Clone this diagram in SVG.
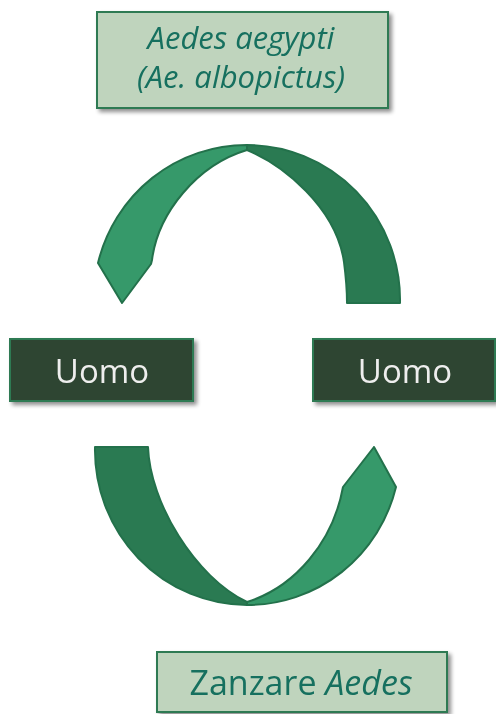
<svg xmlns="http://www.w3.org/2000/svg" width="496" height="714" viewBox="0 0 496 714">
<defs>
<filter id="sh" x="-10%" y="-10%" width="130%" height="140%">
<feGaussianBlur in="SourceAlpha" stdDeviation="2"/>
<feOffset dx="3" dy="3"/>
<feComponentTransfer><feFuncA type="linear" slope="0.45"/></feComponentTransfer>
<feMerge><feMergeNode/><feMergeNode in="SourceGraphic"/></feMerge>
</filter>
<style>
.lbox{fill:#bfd4bd;stroke:#2f7a52;stroke-width:2}
.dbox{fill:#2f4530;stroke:#2f7a52;stroke-width:2}
.lt{font-family:"Open Sans","DejaVu Sans",sans-serif;fill:#17705f;text-anchor:middle}
.dt{font-family:"Open Sans","DejaVu Sans",sans-serif;fill:#eeeeee;text-anchor:middle;font-size:33px}
.light{fill:#36996a;stroke:#23714b;stroke-width:2;stroke-linejoin:round}
.dark{fill:#2a7a52;stroke:#23714b;stroke-width:2;stroke-linejoin:round}
</style>
</defs>
<g id="connectors">
<path class="dark" d="M247,145 A153 155 0 0 1 400,303 L347,303 Q347,285 344,262 C336,207 283,165 247,150 Z"/>
<path class="light" d="M247,145 A153 155 0 0 0 98,263 L122,303 L151,264 L152,260 C158,213 197,165 247,150 Z"/>
<path class="dark" d="M95,447 L148,447 C150,503 195,577 247,602 L247,605 A153 155 0 0 1 95,447 Z"/>
<path class="light" d="M247,605 A153 155 0 0 0 396,487 L374,447 L343,487 C333,542 295,587 247,602 Z"/>
</g>
<g id="node-aedes" filter="url(#sh)">
<rect class="lbox" x="97" y="12" width="291" height="96"/>
<text class="lt" font-size="31" font-style="italic"><tspan x="241" y="49">Aedes aegypti</tspan><tspan x="241" y="88">(Ae. albopictus)</tspan></text>
</g>
<g id="node-uomo-left" filter="url(#sh)">
<rect class="dbox" x="10" y="339" width="183" height="62"/>
<text class="dt" x="102" y="383">Uomo</text>
</g>
<g id="node-uomo-right" filter="url(#sh)">
<rect class="dbox" x="313" y="339" width="182" height="62"/>
<text class="dt" x="405" y="383">Uomo</text>
</g>
<g id="node-zanzare" filter="url(#sh)">
<rect class="lbox" x="157" y="652" width="290" height="60"/>
<text class="lt" font-size="34" x="301" y="695">Zanzare <tspan font-style="italic">Aedes</tspan></text>
</g>
</svg>
